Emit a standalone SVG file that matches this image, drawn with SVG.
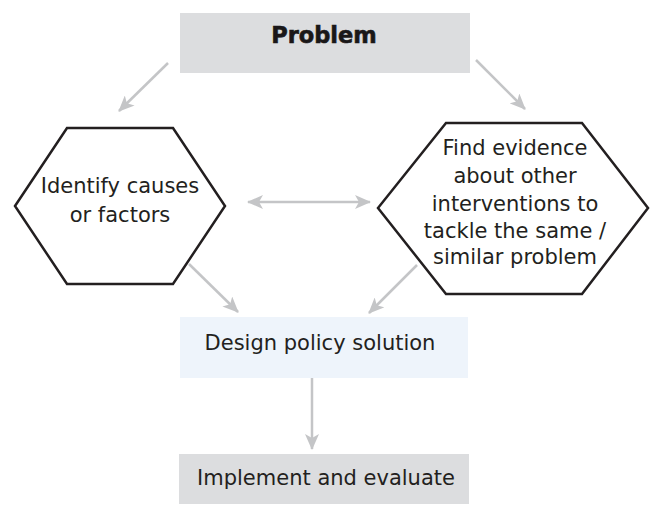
<svg xmlns="http://www.w3.org/2000/svg" width="650" height="505" viewBox="0 0 650 505">
<defs>
<style>
.t{font-family:"DejaVu Sans","Liberation Sans",sans-serif;font-size:21px;fill:#231f20;text-anchor:middle}
.b{font-family:"DejaVu Sans","Liberation Sans",sans-serif;font-size:22.5px;font-weight:900;fill:#1a1718;text-anchor:middle;stroke:#1a1718;stroke-width:0.6}
.hex{fill:#fff;stroke:#231f20;stroke-width:2.5;stroke-linejoin:miter}
.c{stroke:#c4c5c7;stroke-width:2.5;fill:none}
</style>
<marker id="ah" viewBox="0 0 16 14" refX="15" refY="7" markerWidth="16" markerHeight="14" markerUnits="userSpaceOnUse" orient="auto-start-reverse">
<path d="M0,0 L16,7 L0,14 L4,7 z" fill="#c4c5c7"/>
</marker>
</defs>
<rect width="650" height="505" fill="#fff"/>
<g id="problem">
<rect x="180" y="13" width="290" height="60" fill="#dcdddf"/>
<text class="b" x="324" y="43">Problem</text>
</g>
<g id="causes">
<polygon class="hex" points="15,206 67,128 173,128 225,206 173,284 67,284"/>
<text class="t" x="120" y="193">Identify causes</text>
<text class="t" x="120" y="222">or factors</text>
</g>
<g id="evidence">
<polygon class="hex" points="378,208 446,123 582,123 648,208 582,294 446,294"/>
<text class="t" x="515" y="155">Find evidence</text>
<text class="t" x="515" y="183">about other</text>
<text class="t" x="515" y="211">interventions to</text>
<text class="t" x="515" y="238">tackle the same /</text>
<text class="t" x="515" y="264">similar problem</text>
</g>
<g id="design">
<rect x="180" y="317" width="288" height="61" fill="#eef4fb"/>
<text class="t" x="320" y="350">Design policy solution</text>
</g>
<g id="implement">
<rect x="179" y="454" width="290" height="50" fill="#dcdddf"/>
<text class="t" x="326" y="485">Implement and evaluate</text>
</g>
<g id="connectors">
<line class="c" x1="168" y1="63" x2="119" y2="111" marker-end="url(#ah)"/>
<line class="c" x1="476" y1="60" x2="525" y2="109" marker-end="url(#ah)"/>
<line class="c" x1="248" y1="202" x2="370" y2="202" marker-start="url(#ah)" marker-end="url(#ah)"/>
<line class="c" x1="189" y1="264" x2="238" y2="312" marker-end="url(#ah)"/>
<line class="c" x1="417" y1="265" x2="369" y2="313" marker-end="url(#ah)"/>
<line class="c" x1="312" y1="378" x2="312" y2="449" marker-end="url(#ah)"/>
</g>
</svg>
